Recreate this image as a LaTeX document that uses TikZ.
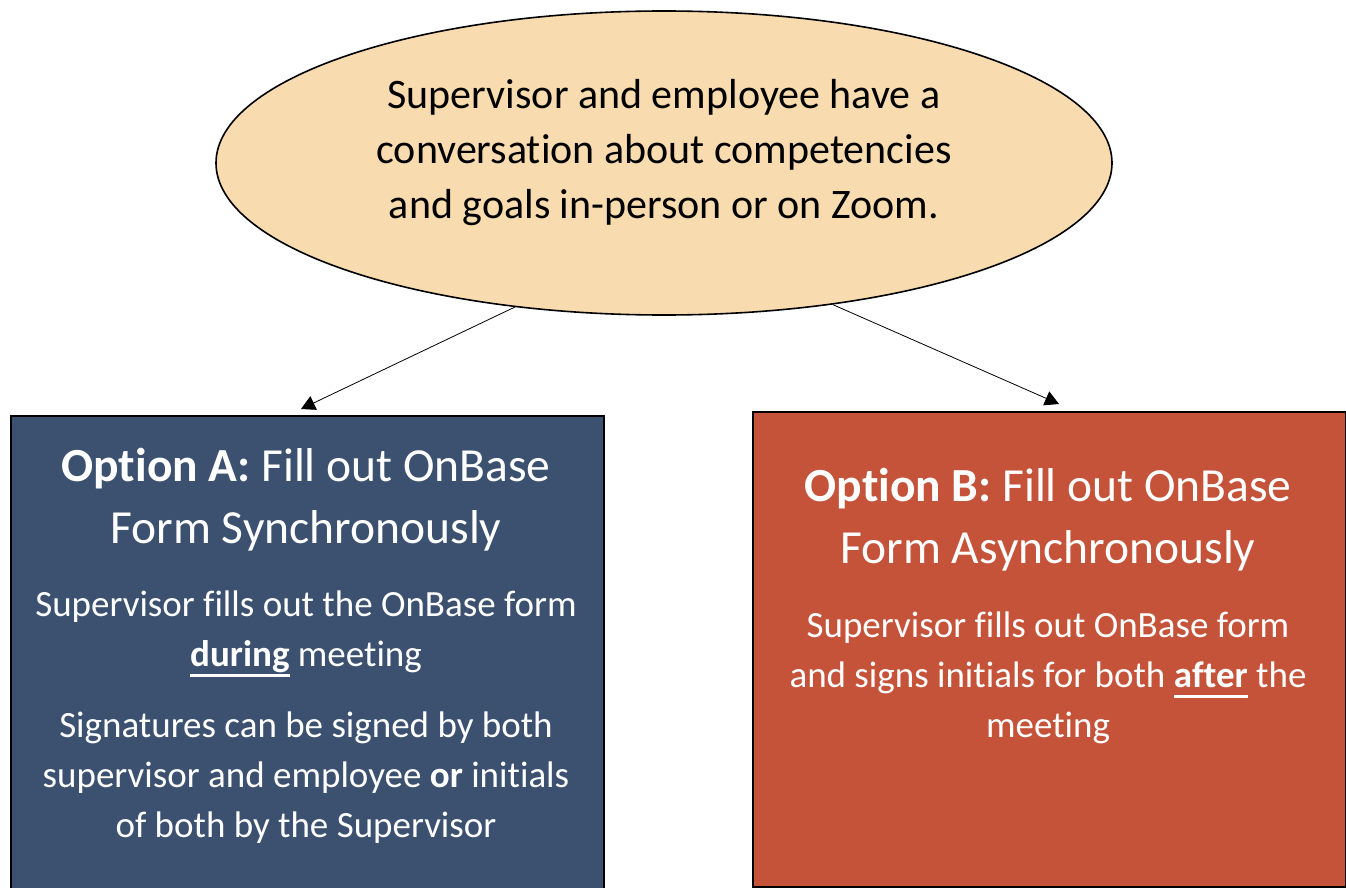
\documentclass[tikz,border=0pt]{standalone}
\usepackage{fontspec}
\setmainfont{Carlito}[Ligatures={NoCommon}]
\usetikzlibrary{shapes.geometric,arrows.meta}
\definecolor{peach}{HTML}{F8DBAE}
\definecolor{boxblue}{HTML}{3C5170}
\definecolor{boxred}{HTML}{C5533A}
\tikzset{
  bubble/.style={ellipse,draw=black,line width=1.6pt,fill=peach,minimum width=896pt,minimum height=304pt,inner sep=0pt},
  optbox/.style={draw=black,line width=2pt,minimum width=593pt,inner sep=0pt,anchor=north west},
  ttl/.style={text=white,align=center,font=\fontsize{47.5}{62}\selectfont},
  body/.style={text=white,align=center,font=\fontsize{37}{50}\selectfont},
  etxt/.style={text=black,align=center,font=\fontsize{42}{55}\selectfont},
  conn/.style={line width=0.8pt,-{Triangle[length=14pt,width=15pt]}}
}
\newsavebox{\ulbox}
\newcommand{\ul}[1]{\sbox{\ulbox}{#1}\rlap{\rule[-10pt]{\wd\ulbox}{2.4pt}}\usebox{\ulbox}}
\begin{document}
\begin{tikzpicture}[x=1pt,y=-1pt]
\useasboundingbox (0,0) rectangle (1346,888);
\begin{scope}
\clip (0,0) rectangle (1346,888);
\node[bubble] (ell) at (664,163) {};
\node[etxt] (etext) at (664,153) {Supervisor and employee have a\\conversation about competencies\\and goals in-person or on Zoom.};
\node[optbox,fill=boxblue,minimum height=490pt] (boxA) at (10,415) {};
\node[optbox,fill=boxred,minimum height=475pt] (boxB) at (752,411) {};
\node[ttl] (titA) at (306,500) {\textbf{Option A:} Fill out OnBase\\Form Synchronously};
\node[body] (bodyA1) at (306,634) {Supervisor fills out the OnBase form\\\ul{\textbf{during}} meeting};
\node[body] (bodyA2) at (306,778) {Signatures can be signed by both\\supervisor and employee \textbf{or} initials\\of both by the Supervisor};
\node[ttl] (titB) at (1048,520) {\textbf{Option B:} Fill out OnBase\\Form Asynchronously};
\node[body] (bodyB) at (1048,678) {Supervisor fills out OnBase form\\and signs initials for both \ul{\textbf{after}} the\\meeting};
\coordinate (tipA) at (301,409);
\coordinate (tipB) at (1059,404);
\draw[conn] (ell.224.4) -- (tipA);
\draw[conn] (ell.320.5) -- (tipB);
\end{scope}
\end{tikzpicture}
\end{document}
